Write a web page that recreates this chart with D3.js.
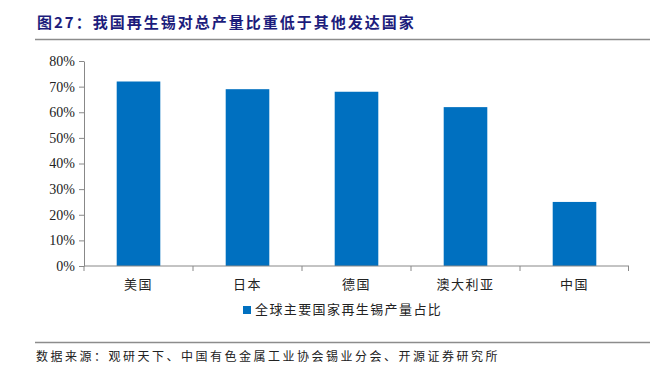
<!DOCTYPE html>
<html>
<head>
<meta charset="utf-8">
<script src="https://cdn.jsdelivr.net/npm/d3@7"></script>
<style>
  body { margin: 0; background: #fff; }
  svg { display: block; }
</style>
</head>
<body>
<div id="chart"></div>
<script>
const countries = ["美国", "日本", "德国", "澳大利亚", "中国"];
const shares = [72, 69, 68, 62, 25];
const yTicks = [0, 10, 20, 30, 40, 50, 60, 70, 80];
const seriesName = "全球主要国家再生锡产量占比";

const W = 650, H = 374;
const MARGIN = { TOP: 61, LEFT: 84, RIGHT: 21, BOTTOM: 108 };
const PLOT_W = W - MARGIN.LEFT - MARGIN.RIGHT;
const PLOT_H = H - MARGIN.TOP - MARGIN.BOTTOM;
const CJK = "'Noto Sans CJK SC', sans-serif";
const SERIF = "'Liberation Serif', 'Times New Roman', serif";

const svg = d3.select("#chart").append("svg")
    .attr("width", W)
    .attr("height", H);

// title + rules
svg.append("text")
    .attr("x", 37).attr("y", 28)
    .text("图27：我国再生锡对总产量比重低于其他发达国家")
    .style("font-family", CJK)
    .style("font-size", "15px")
    .style("font-weight", "bold")
    .style("letter-spacing", "2px")
    .style("fill", "#1c1c7c");

svg.append("line")
    .attr("x1", 35).attr("x2", W).attr("y1", 39.5).attr("y2", 39.5)
    .style("stroke", "#8c8c8c").style("stroke-width", 1.5);

svg.append("line")
    .attr("x1", 35).attr("x2", W).attr("y1", 342.5).attr("y2", 342.5)
    .style("stroke", "#8c8c8c").style("stroke-width", 1.5);

svg.append("text")
    .attr("x", 36).attr("y", 361)
    .text("数据来源：观研天下、中国有色金属工业协会锡业分会、开源证券研究所")
    .style("font-family", CJK)
    .style("font-size", "12px")
    .style("letter-spacing", "2.5px")
    .style("fill", "#222");

const g = svg.append("g")
    .attr("transform", `translate(${MARGIN.LEFT}, ${MARGIN.TOP})`);

const x = d3.scaleBand()
    .domain(countries)
    .range([0, PLOT_W])
    .paddingInner(0.6)
    .paddingOuter(0.3);

const y = d3.scaleLinear()
    .domain([0, 80])
    .range([PLOT_H, 0]);

// bars
g.selectAll("rect.bar")
  .data(countries)
  .enter().append("rect")
    .attr("class", "bar")
    .attr("x", d => x(d))
    .attr("y", (d, i) => y(shares[i]))
    .attr("width", x.bandwidth())
    .attr("height", (d, i) => PLOT_H - y(shares[i]))
    .attr("fill", "#0070c0");

// y axis
const yAxis = g.append("g")
    .call(d3.axisLeft(y).tickValues(yTicks).tickSize(5).tickSizeOuter(0).tickFormat(d => d + "%"))
    .attr("font-family", SERIF)
    .attr("font-size", 14);
yAxis.select(".domain").attr("stroke", "#888");
yAxis.selectAll(".tick line").attr("stroke", "#888");
yAxis.selectAll(".tick text")
    .attr("x", -9)
    .style("font-family", SERIF)
    .style("font-size", "14px")
    .style("fill", "#222");

// x axis: ticks on category boundaries
const step = x.step();
const xAxis = g.append("g")
    .attr("transform", `translate(0, ${PLOT_H})`);
xAxis.append("line")
    .attr("x1", 0).attr("x2", PLOT_W)
    .attr("stroke", "#888");
xAxis.selectAll("line.tk")
  .data(d3.range(countries.length + 1))
  .enter().append("line")
    .attr("class", "tk")
    .attr("x1", i => Math.min(i * step, PLOT_W - 0.5)).attr("x2", i => Math.min(i * step, PLOT_W - 0.5))
    .attr("y1", 0).attr("y2", 5)
    .attr("stroke", "#888");
xAxis.selectAll("text")
  .data(countries)
  .enter().append("text")
    .attr("x", d => x(d) + x.bandwidth() / 2)
    .attr("y", 23)
    .attr("text-anchor", "middle")
    .text(d => d)
    .style("font-family", CJK)
    .style("font-size", "13px")
    .style("letter-spacing", "1.5px")
    .style("fill", "#222");

// legend
const legend = svg.append("g")
    .attr("transform", `translate(243, 314)`);
legend.append("rect")
    .attr("x", 0).attr("y", -8)
    .attr("width", 8).attr("height", 8)
    .attr("fill", "#0070c0");
legend.append("text")
    .attr("x", 12).attr("y", 0)
    .text(seriesName)
    .style("font-family", CJK)
    .style("font-size", "13px")
    .style("letter-spacing", "1.4px")
    .style("fill", "#222");
</script>
</body>
</html>
